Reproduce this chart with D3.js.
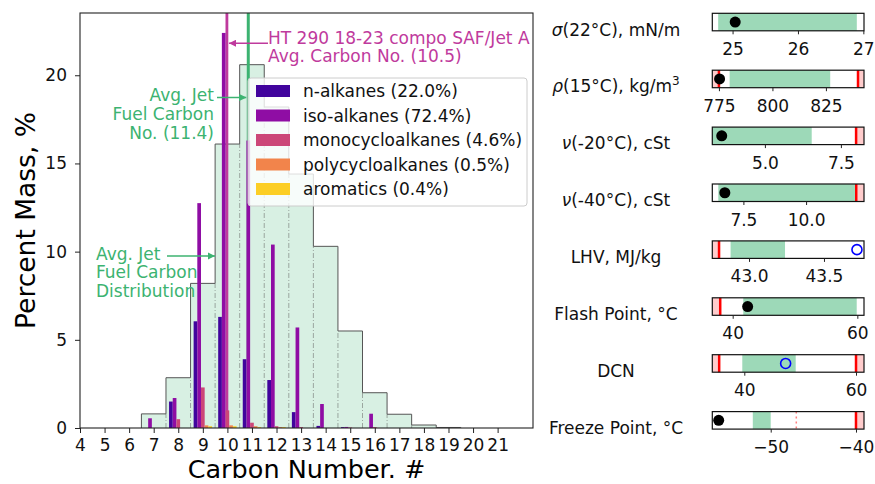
<!DOCTYPE html>
<html>
<head>
<meta charset="utf-8">
<script src="https://cdn.jsdelivr.net/npm/d3@7"></script>
<style>
  body { margin: 0; background: #fff; }
  svg text { font-family: "DejaVu Sans", sans-serif; }
</style>
</head>
<body>
<div id="chart-container"></div>
<script>
// carbon numbers for the component bars
let carbons = [7, 8, 9, 10, 11, 12, 13, 14, 15, 16];
let seriesNames = ["n-alkanes (22.0%)", "iso-alkanes (72.4%)", "monocycloalkanes (4.6%)",
                   "polycycloalkanes (0.5%)", "aromatics (0.4%)"];
let nAlkanes   = [0, 1.5, 6.05, 6.3, 3.9, 2.72, 0.9, 0.12, 0.05, 0];
let isoAlkanes = [0.55, 1.7, 12.75, 22.4, 16.3, 10.4, 5.7, 1.36, 0.06, 0.81];
let monoCyclo  = [0, 0.5, 2.3, 1.0, 0.3, 0.1, 0.05, 0, 0.03, 0.05];
let polyCyclo  = [0, 0, 0.15, 0.15, 0.1, 0.05, 0, 0, 0, 0];
let aromatics  = [0, 0, 0.1, 0.1, 0.05, 0.05, 0, 0, 0, 0];

// average jet fuel distribution
let histCarbons = [7, 8, 9, 10, 11, 12, 13, 14, 15, 16, 17, 18, 19];
let jetDist = [0.8, 2.85, 8.2, 16.1, 20.6, 18.2, 14.4, 10.3, 5.5, 2.0, 0.78, 0.17, 0.03];

// where the two average lines sit on the axis
let samAvgLine = 9.98, jetAvgLine = 10.85;

let xTicks = d3.range(4, 22);
let yTicks = [0, 5, 10, 15, 20];

// property gauges on the right
let panelSymbols = ["σ", "ρ", "ν", "ν", "", "", "", ""];
let panelLabels = ["(22°C), mN/m", "(15°C), kg/m", "(-20°C), cSt", "(-40°C), cSt",
                   "LHV, MJ/kg", "Flash Point, °C", "DCN", "Freeze Point, °C"];
let panelSuper = ["", "3", "", "", "", "", "", ""];
let panelMin   = [24.69, 771.9, 3.27, 6.26, 42.755, 36.73, 34.27, -56.85];
let panelMax   = [27.01, 842.8, 8.26, 12.31, 43.767, 61.07, 61.43, -39.06];
let panelTicks = [[25, 26, 27], [775, 800, 825], [5, 7.5], [7.5, 10], [43, 43.5], [40, 60], [40, 60], [-50, -40]];
let panelFmt   = ["d", "d", ".1f", ".1f", ".1f", "d", "d", "d"];
let goodLo = [24.78, 780, 3.27, 6.5, 42.877, 41.7, 39.64, -52.1];
let goodHi = [26.9, 827, 6.54, 11.95, 43.24, 59.9, 49.2, -50];
let specLo = [null, 775, null, null, 42.8, 38, 35.5, null];
let specHi = [null, 840, 8.0, 12.0, null, null, 60, -40];
let specDotted = [null, null, null, null, null, null, null, -47];
let sampleVal = [25.04, 775.3, 3.58, 6.76, 43.72, 42.4, 47.4, -56.1];
let sampleMeasured = [true, true, true, true, false, true, false, true];

let colors = ["#41049d", "#8f0da4", "#cc4778", "#f2844b", "#fcce25"];
let green = "#3cb371", magenta = "#bf3a9d";

let svg = d3.select("#chart-container").append("svg")
    .attr("width", 875).attr("height", 484);

let defs = svg.append("defs");
[["arrG", green], ["arrM", magenta]].forEach(function(a) {
  defs.append("marker").attr("id", a[0])
    .attr("viewBox", "0 0 10 10").attr("refX", 10).attr("refY", 5)
    .attr("markerWidth", 5).attr("markerHeight", 5).attr("orient", "auto")
    .append("path").attr("d", "M0,0L10,5L0,10z").attr("fill", a[1]);
});

// main chart
let pLeftMain = 80, pRightMain = 533, pTopMain = 13, pBotMain = 428;
let x = d3.scaleLinear().domain([4, 22.44]).range([pLeftMain, pRightMain]);
let y = d3.scaleLinear().domain([0, 23.53]).range([pBotMain, pTopMain]);

let g = svg.append("g");

// histogram of jet fuel
g.selectAll(".hist").data(histCarbons).enter().append("rect")
  .attr("x", d => x(d - 0.5))
  .attr("width", d => x(d + 0.5) - x(d - 0.5))
  .attr("y", (d, i) => y(jetDist[i]))
  .attr("height", (d, i) => pBotMain - y(jetDist[i]))
  .attr("fill", green).attr("fill-opacity", 0.2);

// dash-dot separators
g.selectAll(".sep").data(histCarbons.slice(0, -1)).enter().append("line")
  .attr("x1", d => x(d + 0.5)).attr("x2", d => x(d + 0.5))
  .attr("y1", pBotMain).attr("y2", (d, i) => y(Math.min(jetDist[i], jetDist[i + 1])))
  .attr("stroke", "#555").attr("stroke-opacity", 0.6).attr("stroke-width", 0.8)
  .attr("stroke-dasharray", "5,2,1,2");

// step outline
let stepPts = [[histCarbons[0] - 0.5, 0]];
histCarbons.forEach(function(c, i) {
  stepPts.push([c - 0.5, jetDist[i]]);
  stepPts.push([c + 0.5, jetDist[i]]);
});
stepPts.push([histCarbons[histCarbons.length - 1] + 0.5, 0]);
g.append("path")
  .attr("d", d3.line().x(d => x(d[0])).y(d => y(d[1]))(stepPts))
  .attr("fill", "none").attr("stroke", "#555").attr("stroke-width", 1);

// average lines
g.append("line").attr("x1", x(samAvgLine)).attr("x2", x(samAvgLine))
  .attr("y1", pTopMain).attr("y2", pBotMain).attr("stroke", magenta).attr("stroke-width", 2.8);
g.append("line").attr("x1", x(jetAvgLine)).attr("x2", x(jetAvgLine))
  .attr("y1", pTopMain).attr("y2", pBotMain).attr("stroke", green).attr("stroke-width", 3);

// component bars
let allSeries = [nAlkanes, isoAlkanes, monoCyclo, polyCyclo, aromatics];
let bw = 0.15;
allSeries.forEach(function(vals, s) {
  g.selectAll(".s" + s).data(carbons).enter().append("rect")
    .attr("x", d => x(d + (s - 2) * bw - bw / 2))
    .attr("width", x(bw) - x(0))
    .attr("y", (d, i) => y(vals[i]))
    .attr("height", (d, i) => pBotMain - y(vals[i]))
    .attr("fill", colors[s]);
});

// frame and axes
g.append("rect").attr("x", pLeftMain).attr("y", pTopMain)
  .attr("width", pRightMain - pLeftMain).attr("height", pBotMain - pTopMain)
  .attr("fill", "none").attr("stroke", "#222").attr("stroke-width", 1.1);

let xAxis = g.append("g").attr("transform", `translate(0,${pBotMain})`)
  .call(d3.axisBottom(x).tickValues(xTicks).tickFormat(d3.format("d")).tickSize(5).tickPadding(5.5));
let yAxis = g.append("g").attr("transform", `translate(${pLeftMain},0)`)
  .call(d3.axisLeft(y).tickValues(yTicks).tickSize(5).tickPadding(8));
[xAxis, yAxis].forEach(function(a) {
  a.select(".domain").remove();
  a.selectAll("text").attr("font-size", 17).attr("fill", "#111")
    .attr("font-family", "DejaVu Sans");
  a.selectAll("line").attr("stroke", "#222");
});

g.append("text").attr("x", (pLeftMain + pRightMain) / 2).attr("y", 478)
  .attr("text-anchor", "middle").attr("font-size", 25.5).text("Carbon Number. #");
g.append("text").attr("transform", `translate(35,${(pTopMain + pBotMain) / 2})rotate(-90)`)
  .attr("text-anchor", "middle").attr("font-size", 26.5).text("Percent Mass, %");

// legend
let lg = g.append("g").attr("transform", "translate(248,78)");
lg.append("rect").attr("width", 279).attr("height", 128).attr("rx", 3)
  .attr("fill", "#fff").attr("fill-opacity", 0.8).attr("stroke", "#ccc");
seriesNames.forEach(function(name, i) {
  let row = lg.append("g").attr("transform", `translate(0,${13 + i * 24.5})`);
  row.append("rect").attr("x", 8).attr("y", -6).attr("width", 34).attr("height", 12)
    .attr("fill", colors[i]);
  row.append("text").attr("x", 55).attr("y", 6).attr("font-size", 17)
    .attr("fill", "#111").text(name);
});

// annotations
function multiText(lines, xp, yp, anchor, color) {
  let t = g.append("text").attr("font-size", 17).attr("fill", color).attr("text-anchor", anchor);
  lines.forEach(function(l, i) {
    t.append("tspan").attr("x", xp).attr("y", yp + i * 18.8).text(l);
  });
}
multiText(["HT 290 18-23 compo SAF/Jet A", "Avg. Carbon No. (10.5)"], 268, 43.5, "start", magenta);
g.append("line").attr("x1", 268).attr("y1", 43.3).attr("x2", x(samAvgLine) + 2).attr("y2", 43.3)
  .attr("stroke", magenta).attr("stroke-width", 1.5).attr("marker-end", "url(#arrM)");

multiText(["Avg. Jet", "Fuel Carbon", "No. (11.4)"], 214, 101, "end", green);
g.append("line").attr("x1", 217).attr("y1", 97.5).attr("x2", x(jetAvgLine) - 2).attr("y2", 97.5)
  .attr("stroke", green).attr("stroke-width", 1.5).attr("marker-end", "url(#arrG)");

multiText(["Avg. Jet", "Fuel Carbon", "Distribution"], 96, 259.5, "start", green);
g.append("line").attr("x1", 167).attr("y1", 256).attr("x2", 215).attr("y2", 256)
  .attr("stroke", green).attr("stroke-width", 1.5).attr("marker-end", "url(#arrG)");

// right hand gauges
let pLeft = 712.3, pRight = 864, pH = 17.5;
panelLabels.forEach(function(label, i) {
  let pTop = 13.3 + i * 56.9;
  let px = d3.scaleLinear().domain([panelMin[i], panelMax[i]]).range([pLeft, pRight]);
  let pg = svg.append("g");

  pg.append("rect").attr("x", px(goodLo[i])).attr("y", pTop)
    .attr("width", px(goodHi[i]) - px(goodLo[i])).attr("height", pH)
    .attr("fill", green).attr("fill-opacity", 0.5);

  if (specLo[i] != null) {
    pg.append("rect").attr("x", pLeft).attr("y", pTop)
      .attr("width", px(specLo[i]) - pLeft).attr("height", pH)
      .attr("fill", "red").attr("fill-opacity", 0.2);
    pg.append("line").attr("x1", px(specLo[i])).attr("x2", px(specLo[i]))
      .attr("y1", pTop).attr("y2", pTop + pH).attr("stroke", "red").attr("stroke-width", 2.5);
  }
  if (specHi[i] != null) {
    pg.append("rect").attr("x", px(specHi[i])).attr("y", pTop)
      .attr("width", pRight - px(specHi[i])).attr("height", pH)
      .attr("fill", "red").attr("fill-opacity", 0.2);
    pg.append("line").attr("x1", px(specHi[i])).attr("x2", px(specHi[i]))
      .attr("y1", pTop).attr("y2", pTop + pH).attr("stroke", "red").attr("stroke-width", 2.5);
  }
  if (specDotted[i] != null) {
    pg.append("line").attr("x1", px(specDotted[i])).attr("x2", px(specDotted[i]))
      .attr("y1", pTop).attr("y2", pTop + pH).attr("stroke", "red").attr("stroke-opacity", 0.5)
      .attr("stroke-width", 1.5).attr("stroke-dasharray", "2,3");
  }

  pg.append("rect").attr("x", pLeft).attr("y", pTop)
    .attr("width", pRight - pLeft).attr("height", pH)
    .attr("fill", "none").attr("stroke", "#111").attr("stroke-width", 1.2);

  let c = pg.append("circle").attr("cx", px(sampleVal[i])).attr("cy", pTop + pH / 2);
  if (sampleMeasured[i]) c.attr("r", 5.5).attr("fill", "#000");
  else c.attr("r", 5).attr("fill", "none").attr("stroke", "blue").attr("stroke-width", 1.6);

  let ax = pg.append("g").attr("transform", `translate(0,${pTop + pH})`)
    .call(d3.axisBottom(px).tickValues(panelTicks[i]).tickFormat(d3.format(panelFmt[i]))
      .tickSize(3.5).tickPadding(8.5));
  ax.select(".domain").remove();
  ax.selectAll("text").attr("font-size", 17).attr("fill", "#111").attr("font-family", "DejaVu Sans");
  ax.selectAll("line").attr("stroke", "#222");

  let t = pg.append("text").attr("x", 616).attr("y", pTop + pH / 2 + 13.5)
    .attr("text-anchor", "middle").attr("font-size", 17).attr("fill", "#111");
  if (panelSymbols[i]) t.append("tspan").attr("font-style", "italic").text(panelSymbols[i]);
  t.append("tspan").text(label);
  if (panelSuper[i]) t.append("tspan").attr("font-size", 12).attr("dy", -7).text(panelSuper[i]);
});
</script>
</body>
</html>
